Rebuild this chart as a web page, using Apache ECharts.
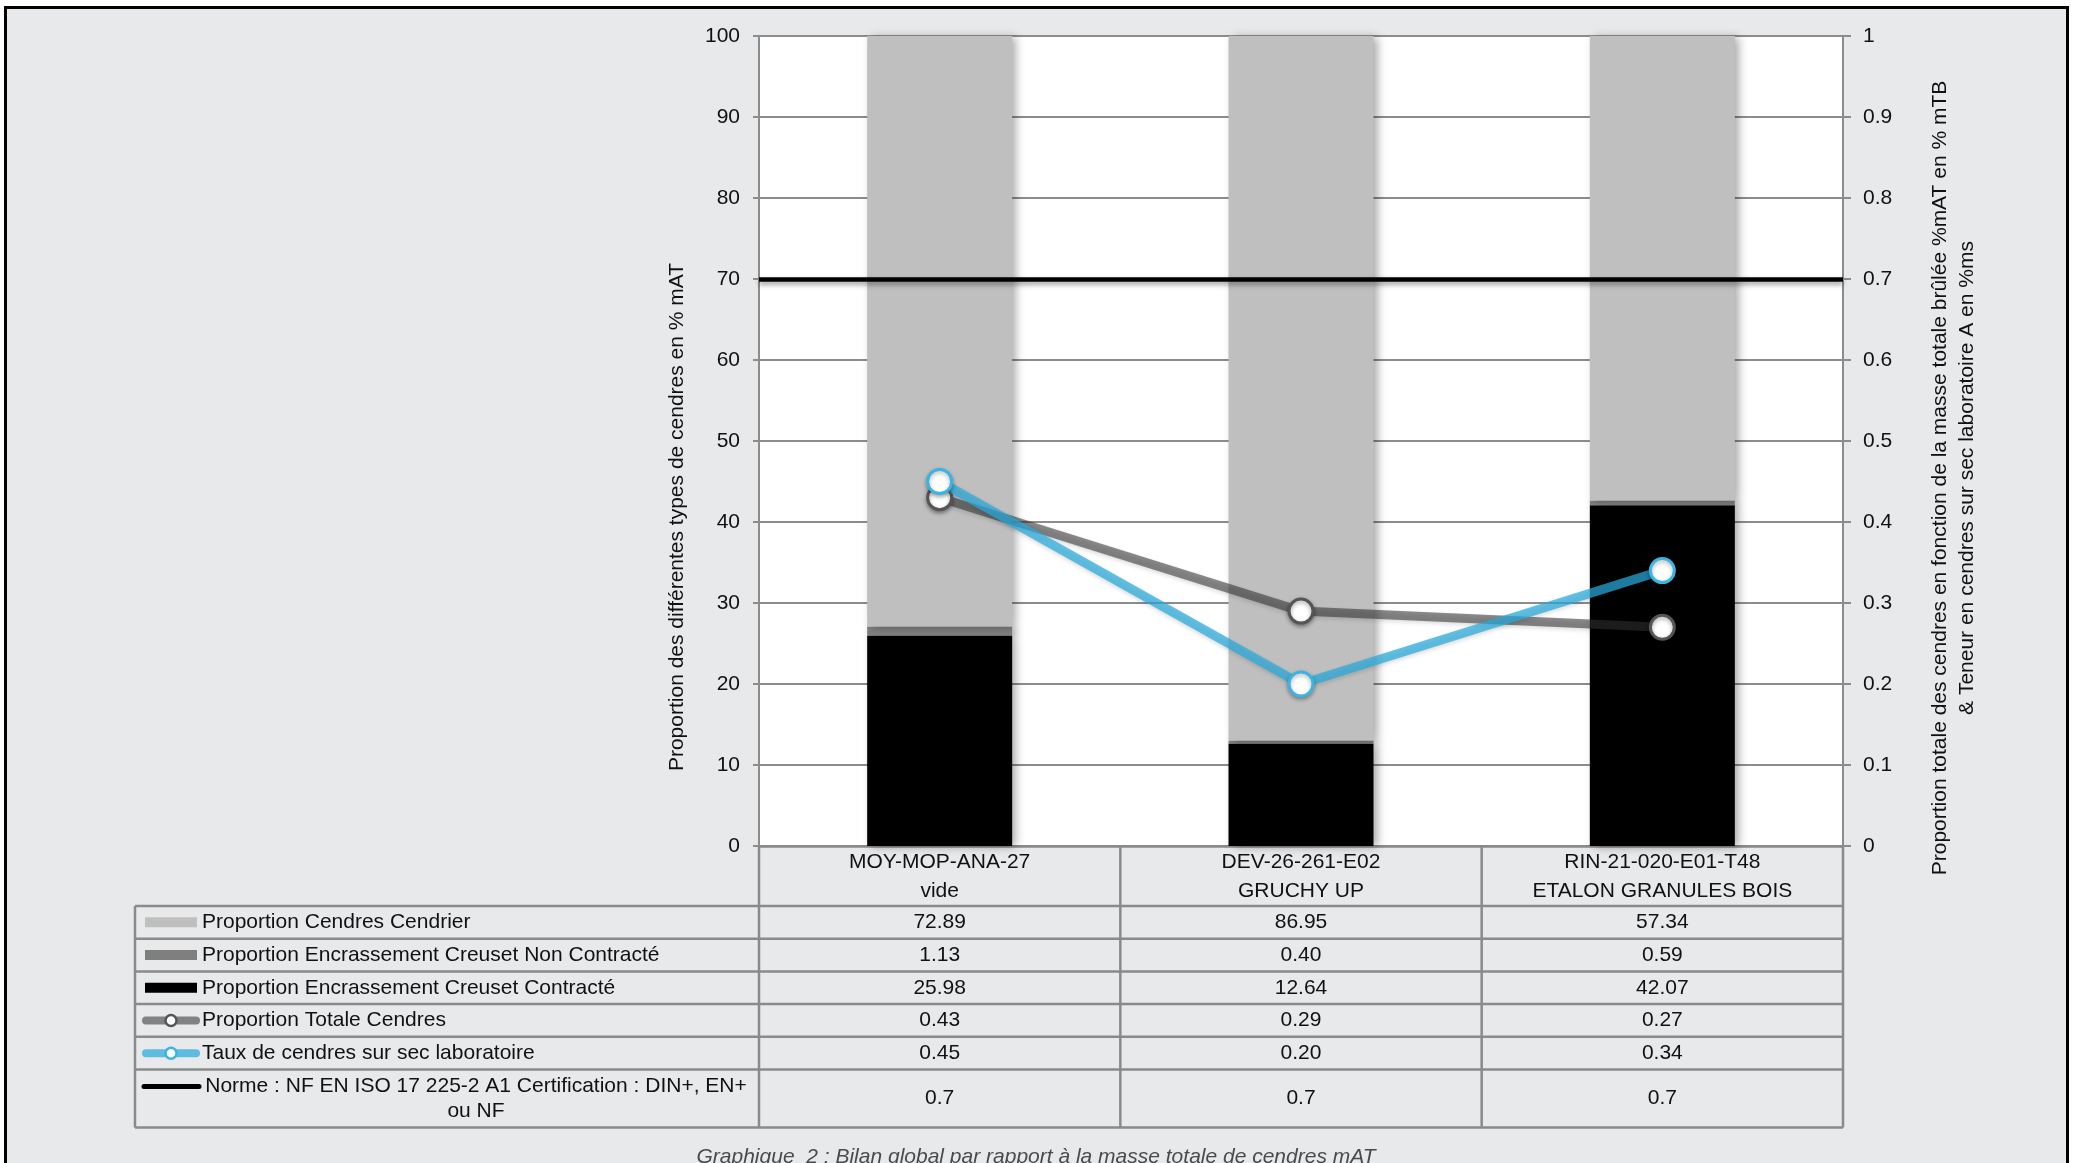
<!DOCTYPE html>
<html>
<head>
<meta charset="utf-8">
<title>Bilan global par rapport à la masse totale de cendres mAT</title>
<script src="https://cdn.jsdelivr.net/npm/echarts@6/dist/echarts.min.js"></script>
<style>
  html, body { margin: 0; padding: 0; background: #ffffff; }
  #chart { width: 2079px; height: 1163px; }
</style>
</head>
<body>
<div id="chart"></div>
<script>
// ---- Data ----
const categories = ['MOY-MOP-ANA-27', 'DEV-26-261-E02', 'RIN-21-020-E01-T48'];
const subLabels = ['vide', 'GRUCHY UP', 'ETALON GRANULES BOIS'];

const cendrier = [72.89, 86.95, 57.34];        // Proportion Cendres Cendrier
const nonContracte = [1.13, 0.40, 0.59];       // Encrassement Creuset Non Contracté
const contracte = [25.98, 12.64, 42.07];       // Encrassement Creuset Contracté
const totaleCendres = [0.43, 0.29, 0.27];      // Proportion Totale Cendres
const tauxLabo = [0.45, 0.20, 0.34];           // Taux de cendres sur sec laboratoire
const norme = [0.7, 0.7, 0.7];                 // Norme NF EN ISO 17 225-2 A1

const nameCendrier = 'Proportion Cendres Cendrier';
const nameNonContracte = 'Proportion Encrassement Creuset Non Contracté';
const nameContracte = 'Proportion Encrassement Creuset Contracté';
const nameTotale = 'Proportion Totale Cendres';
const nameLabo = 'Taux de cendres sur sec laboratoire';
const nameNorme = 'Norme : NF EN ISO 17 225-2 A1 Certification : DIN+, EN+\nou NF';

const leftAxisTitle = 'Proportion des différentes types de cendres en % mAT';
const rightAxisTitle = 'Proportion totale des cendres en fonction de la masse totale brûlée %mAT en % mTB\n& Teneur en cendres sur sec laboratoire A en %ms';
const caption = 'Graphique  2 : Bilan global par rapport à la masse totale de cendres mAT';

// ---- Styling / layout ----
const FONT = '"Liberation Sans", Arial, Helvetica, sans-serif';
const FS = 21;
const TXT = '#111111';
const GRID_LINE = '#8c8c8c';
const TABLE_LINE = '#8a8a8a';
const C_CENDRIER = '#bfbfbf';
const C_NONCONTRACTE = '#7f7f7f';
const C_CONTRACTE = '#000000';
const C_TOTALE = 'rgba(50,50,50,0.56)';
const C_TOTALE_BORDER = '#555555';
const C_LABO = 'rgba(40,170,220,0.72)';
const C_LABO_BORDER = '#3ab4e2';

const W = 2079, H = 1163;
const plot = { left: 759, top: 36, right: 1843, bottom: 846 };
const catW = (plot.right - plot.left) / categories.length;
const tableLeft = 135;
const headerBottom = 906;
const rowHeights = [32.7, 32.7, 32.7, 32.7, 32.7, 58];

const barShadow = { shadowColor: 'rgba(0,0,0,0.35)', shadowBlur: 9, shadowOffsetX: 4, shadowOffsetY: 1 };

// Rows of the data table under the plot (legend key + values per category)
const tableRows = [
  { label: nameCendrier, key: 'rect', color: C_CENDRIER, values: cendrier, digits: 2 },
  { label: nameNonContracte, key: 'rect', color: C_NONCONTRACTE, values: nonContracte, digits: 2 },
  { label: nameContracte, key: 'rect', color: C_CONTRACTE, values: contracte, digits: 2 },
  { label: nameTotale, key: 'marker', color: C_TOTALE, border: C_TOTALE_BORDER, values: totaleCendres, digits: 2 },
  { label: nameLabo, key: 'marker', color: C_LABO, border: C_LABO_BORDER, values: tauxLabo, digits: 2 },
  { label: nameNorme, key: 'line', color: '#000000', values: norme, digits: 1, centered: true }
];

// ---- Graphic elements: frame, table, titles ----
const graphics = [];

// White margin outside the framed panel and its black border
graphics.push({ type: 'rect', shape: { x: 0, y: 0, width: W, height: 6 }, style: { fill: '#ffffff' }, silent: true });
graphics.push({ type: 'rect', shape: { x: 0, y: 0, width: 4, height: H }, style: { fill: '#ffffff' }, silent: true });
graphics.push({ type: 'rect', shape: { x: 2069, y: 0, width: W - 2069, height: H }, style: { fill: '#ffffff' }, silent: true });
graphics.push({ type: 'rect', shape: { x: 5.5, y: 7.5, width: 2062, height: H + 20 }, style: { fill: 'none', stroke: '#000000', lineWidth: 3 }, silent: true });

// Table row boundaries
const rowEdges = [headerBottom];
rowHeights.forEach(h => rowEdges.push(rowEdges[rowEdges.length - 1] + h));
const tableBottom = rowEdges[rowEdges.length - 1];

rowEdges.forEach(y => {
  graphics.push({ type: 'line', shape: { x1: tableLeft, y1: y, x2: plot.right, y2: y },
    style: { stroke: TABLE_LINE, lineWidth: 2.5 }, silent: true });
});
graphics.push({ type: 'line', shape: { x1: tableLeft, y1: headerBottom, x2: tableLeft, y2: tableBottom },
  style: { stroke: TABLE_LINE, lineWidth: 2.5 }, silent: true });
for (let i = 0; i <= categories.length; i++) {
  const x = plot.left + i * catW;
  graphics.push({ type: 'line', shape: { x1: x, y1: plot.bottom, x2: x, y2: tableBottom },
    style: { stroke: TABLE_LINE, lineWidth: 2.5 }, silent: true });
}

tableRows.forEach((row, r) => {
  const yc = (rowEdges[r] + rowEdges[r + 1]) / 2;
  // legend key
  if (row.key === 'rect') {
    graphics.push({ type: 'rect', shape: { x: 145, y: yc - 5, width: 52, height: 10 },
      style: { fill: row.color }, silent: true });
  } else if (row.key === 'marker') {
    graphics.push({ type: 'line', shape: { x1: 146, y1: yc, x2: 196, y2: yc },
      style: { stroke: row.color, lineWidth: 8, lineCap: 'round' }, silent: true });
    graphics.push({ type: 'circle', shape: { cx: 171, cy: yc, r: 5.5 },
      style: { fill: '#ffffff', stroke: row.border, lineWidth: 2.5 }, silent: true });
  } else {
    graphics.push({ type: 'line', shape: { x1: 144, y1: yc - 12, x2: 199, y2: yc - 12 },
      style: { stroke: row.color, lineWidth: 5, lineCap: 'round' }, silent: true });
  }
  // label
  graphics.push({ type: 'text', silent: true, x: row.centered ? 476 : 202, y: yc,
    style: { text: row.label, font: FS + 'px ' + FONT, fill: TXT,
      textAlign: row.centered ? 'center' : 'left', textVerticalAlign: 'middle', lineHeight: 24.5 } });
  // values
  row.values.forEach((v, i) => {
    graphics.push({ type: 'text', silent: true, x: plot.left + (i + 0.5) * catW, y: yc,
      style: { text: v.toFixed(row.digits), font: FS + 'px ' + FONT, fill: TXT,
        textAlign: 'center', textVerticalAlign: 'middle' } });
  });
});

// Axis titles (rotated)
graphics.push({ type: 'text', silent: true, x: 677, y: 517, rotation: Math.PI / 2,
  style: { text: leftAxisTitle, font: FS + 'px ' + FONT, fill: TXT, textAlign: 'center', textVerticalAlign: 'middle' } });
graphics.push({ type: 'text', silent: true, x: 1954, y: 478, rotation: Math.PI / 2,
  style: { text: rightAxisTitle, font: FS + 'px ' + FONT, fill: TXT, textAlign: 'center', textVerticalAlign: 'middle', lineHeight: 27 } });

// Caption
graphics.push({ type: 'text', silent: true, x: 1036, y: 1157,
  style: { text: caption, font: 'italic ' + FS + 'px ' + FONT, fill: '#4a4a4a', textAlign: 'center', textVerticalAlign: 'middle' } });

// ---- Chart ----
const chart = echarts.init(document.getElementById('chart'), null, { renderer: 'canvas' });

const option = {
  animation: false,
  backgroundColor: '#e8e9eb',
  textStyle: { fontFamily: FONT },
  grid: {
    left: plot.left, top: plot.top, right: W - plot.right, bottom: H - plot.bottom,
    show: true, backgroundColor: '#ffffff', borderWidth: 0
  },
  xAxis: {
    type: 'category',
    data: categories,
    boundaryGap: true,
    axisLine: { show: true, lineStyle: { color: TABLE_LINE, width: 2.5 } },
    axisTick: { show: false },
    splitLine: { show: false },
    axisLabel: {
      interval: 0, margin: 2, fontSize: FS, lineHeight: 29, color: TXT, fontFamily: FONT,
      formatter: (v, i) => v + '\n' + subLabels[i]
    }
  },
  yAxis: [
    {
      type: 'value', min: 0, max: 100, interval: 10,
      axisLine: { show: true, lineStyle: { color: GRID_LINE, width: 2 } },
      axisTick: { show: true, length: 6, lineStyle: { color: GRID_LINE, width: 2 } },
      splitLine: { show: true, lineStyle: { color: GRID_LINE, width: 2 } },
      axisLabel: { margin: 19, fontSize: FS, color: TXT, fontFamily: FONT }
    },
    {
      type: 'value', min: 0, max: 1, interval: 0.1, position: 'right',
      axisLine: { show: true, lineStyle: { color: GRID_LINE, width: 2 } },
      axisTick: { show: true, length: 8, lineStyle: { color: GRID_LINE, width: 2 } },
      splitLine: { show: false },
      axisLabel: { margin: 20, fontSize: FS, color: TXT, fontFamily: FONT,
        formatter: v => String(+v.toFixed(1)) }
    }
  ],
  series: [
    {
      name: nameContracte, type: 'bar', stack: 'cendres', barWidth: 145, data: contracte,
      itemStyle: Object.assign({ color: C_CONTRACTE }, barShadow), z: 2
    },
    {
      name: nameNonContracte, type: 'bar', stack: 'cendres', barWidth: 145, data: nonContracte,
      itemStyle: Object.assign({ color: C_NONCONTRACTE }, barShadow), z: 2
    },
    {
      name: nameCendrier, type: 'bar', stack: 'cendres', barWidth: 145, data: cendrier,
      itemStyle: Object.assign({ color: C_CENDRIER }, barShadow), z: 2
    },
    {
      name: nameNorme, type: 'line', yAxisIndex: 1, data: norme, symbol: 'none',
      lineStyle: { opacity: 0 }, z: 5,
      markLine: {
        silent: true, symbol: ['none', 'none'], label: { show: false },
        lineStyle: { color: '#000000', width: 4.5, type: 'solid',
          shadowColor: 'rgba(0,0,0,0.4)', shadowBlur: 5, shadowOffsetY: 3 },
        emphasis: { disabled: true },
        data: [{ yAxis: norme[0] }]
      }
    },
    {
      name: nameTotale, type: 'line', yAxisIndex: 1, data: totaleCendres, z: 6,
      symbol: 'circle', symbolSize: 24,
      lineStyle: { color: C_TOTALE, width: 9, shadowColor: 'rgba(0,0,0,0.25)', shadowBlur: 4, shadowOffsetY: 2 },
      itemStyle: { color: '#ffffff', borderColor: C_TOTALE_BORDER, borderWidth: 3,
        shadowColor: 'rgba(0,0,0,0.35)', shadowBlur: 4, shadowOffsetY: 2 }
    },
    {
      name: nameLabo, type: 'line', yAxisIndex: 1, data: tauxLabo, z: 7,
      symbol: 'circle', symbolSize: 24,
      lineStyle: { color: C_LABO, width: 9, shadowColor: 'rgba(0,0,0,0.2)', shadowBlur: 4, shadowOffsetY: 2 },
      itemStyle: { color: '#ffffff', borderColor: C_LABO_BORDER, borderWidth: 3,
        shadowColor: 'rgba(0,0,0,0.3)', shadowBlur: 4, shadowOffsetY: 2 }
    }
  ],
  graphic: { elements: graphics }
};

chart.setOption(option);
</script>
</body>
</html>
